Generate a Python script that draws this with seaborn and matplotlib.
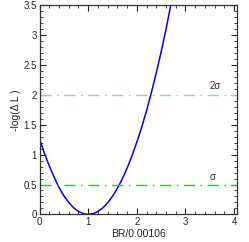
import numpy as np
import pandas as pd
import seaborn as sns
import matplotlib.pyplot as plt
from matplotlib.ticker import MultipleLocator, FormatStrFormatter

# values
br_ratio = [0.0, 0.1, 0.2, 0.3, 0.4, 0.5, 0.6, 0.7, 0.8, 0.9, 1.0,
            1.1, 1.2, 1.3, 1.4, 1.5, 1.6, 1.7, 1.8, 1.9, 2.0,
            2.1, 2.2, 2.3, 2.4, 2.5, 2.6, 2.7, 2.8]
neg_log_dl = [1.26, 1.02, 0.81, 0.62, 0.45, 0.31, 0.20, 0.11, 0.05, 0.012, 0.0,
              0.012, 0.049, 0.109, 0.194, 0.303, 0.436, 0.593, 0.774, 0.98, 1.21,
              1.46, 1.74, 2.04, 2.37, 2.72, 3.10, 3.51, 3.93]
sigma_levels = [0.5, 2.0]
sigma_labels = ["σ", "2σ"]
sigma_colors = ["#00e600", "#70f070"]

df = pd.DataFrame({"br": br_ratio, "nll": neg_log_dl})

sns.set_style("ticks")
plt.rcParams['font.family'] = ['Liberation Sans', 'DejaVu Sans']

fig = plt.figure(figsize=(2.49, 2.42), dpi=100)
ax = fig.add_axes([0.159, 0.114, 0.793, 0.865])

sns.lineplot(data=df, x="br", y="nll", color="#0000ff", linewidth=1.1, ax=ax, sort=False)

for lvl, col in zip(sigma_levels, sigma_colors):
    ax.axhline(lvl, color=col, linewidth=1.0, dashes=(8, 4, 1.2, 4))

ax.text(3.49, 2.14, sigma_labels[1], fontsize=7, va="center", ha="left")
ax.text(3.5, 0.63, sigma_labels[0], fontsize=7, va="center", ha="left")

ax.set_xlim(0, 4.06)
ax.set_ylim(0, 3.5)
ax.xaxis.set_major_locator(MultipleLocator(1))
ax.xaxis.set_minor_locator(MultipleLocator(0.2))
ax.yaxis.set_major_locator(MultipleLocator(0.5))
ax.yaxis.set_minor_locator(MultipleLocator(0.1))
ax.yaxis.set_major_formatter(FormatStrFormatter('%g'))
ax.xaxis.set_major_formatter(FormatStrFormatter('%g'))
ax.tick_params(which="both", direction="in", top=True, right=True, labelsize=7, pad=2)
ax.tick_params(which="major", length=4, width=0.8)
ax.tick_params(which="minor", length=2, width=0.6)
for s in ax.spines.values():
    s.set_linewidth(0.9)
    s.set_color("#333333")

ax.set_xlabel("BR/0.00106", fontsize=7.5, labelpad=1)
ax.set_ylabel("-log(Δ L )", fontsize=7.5, labelpad=2)

fig.savefig("out.png", dpi=100)
